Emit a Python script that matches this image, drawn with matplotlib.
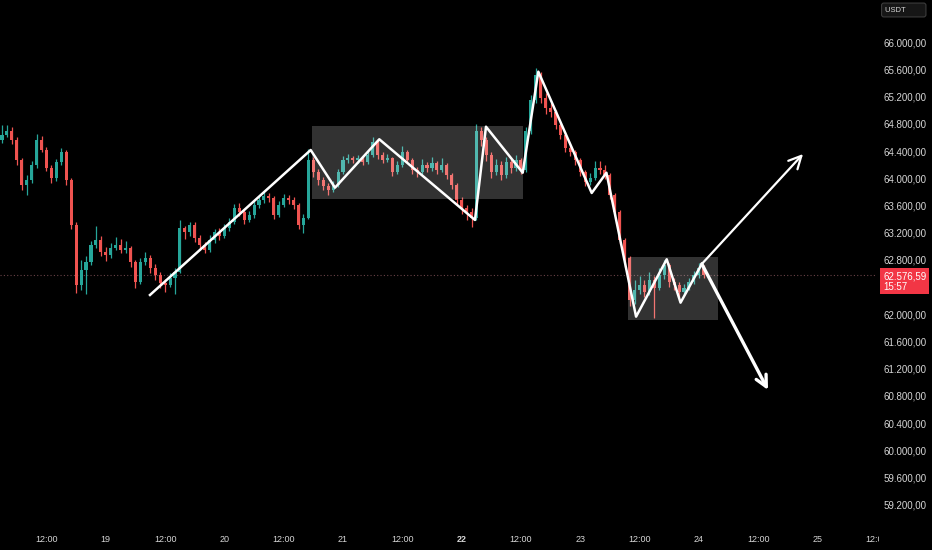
import matplotlib
matplotlib.use('Agg')
import numpy as np
from matplotlib import pyplot as plt
from matplotlib.patches import Rectangle
from matplotlib.transforms import Bbox, TransformedBbox

plt.rcParams['font.family'] = ['Liberation Sans', 'DejaVu Sans']

# Hourly candles, time in hours since the 18th 00:00
hours = list(range(3, 146))
closes = [64640, 64700, 64560, 64270, 63900, 63975, 64200, 64560, 64420, 64150,
          64000, 64240, 64390, 63975, 63310, 62430, 62650, 62770, 63020, 63090,
          62915, 62870, 62975, 63020, 62945, 62975, 62770, 62475, 62770, 62830,
          62680, 62580, 62460, 62430, 62530, 62620, 63270, 63210, 63310, 63120,
          63020, 62945, 63090, 63210, 63150, 63270, 63360, 63560, 63500, 63390,
          63460, 63610, 63680, 63740, 63710, 63460, 63610, 63710, 63680, 63610,
          63310, 63420, 64270, 64090, 63975, 63890, 63830, 63900, 64090, 64270,
          64300, 64270, 64300, 64240, 64340, 64530, 64340, 64270, 64300, 64090,
          64200, 64390, 64270, 64120, 64090, 64200, 64150, 64225, 64120, 64200,
          64050, 63900, 63680, 63560, 63500, 63420, 64700, 64560, 64340, 64090,
          64200, 64050, 64240, 64150, 64270, 64120, 64700, 65150, 65520, 65180,
          65030, 64975, 64780, 64640, 64450, 64390, 64270, 64090, 63950, 64000,
          64150, 64120, 64050, 63750, 63500, 63090, 62830, 62210, 62360, 62430,
          62330, 62500, 62390, 62580, 62720, 62475, 62430, 62330, 62390, 62475,
          62580, 62680, 62576.59]
highs = [64780, 64790, 64760, 64600, 64300, 64050, 64260, 64650, 64620, 64460,
         64190, 64290, 64450, 64420, 64000, 63350, 62800, 62850, 63080, 63300,
         63150, 62990, 63050, 63130, 63110, 63080, 63000, 62800, 62830, 62920,
         62870, 62740, 62620, 62520, 62600, 62680, 63380, 63300, 63360, 63350,
         63160, 63060, 63160, 63260, 63270, 63330, 63420, 63620, 63640, 63540,
         63520, 63660, 63740, 63800, 63780, 63740, 63660, 63770, 63760, 63720,
         63640, 63480, 64430, 64320, 64130, 64020, 63930, 63960, 64140, 64330,
         64350, 64330, 64340, 64330, 64400, 64600, 64560, 64380, 64350, 64320,
         64260, 64470, 64420, 64300, 64170, 64290, 64240, 64310, 64260, 64300,
         64230, 64080, 63930, 63720, 63610, 63560, 64800, 64760, 64600, 64380,
         64290, 64250, 64320, 64280, 64340, 64300, 64760, 65230, 65620, 65560,
         65260, 65100, 65010, 64820, 64680, 64500, 64420, 64300, 64120, 64080,
         64260, 64250, 64200, 64080, 63780, 63530, 63120, 62860, 62500, 62560,
         62500, 62620, 62560, 62680, 62800, 62760, 62530, 62480, 62450, 62540,
         62640, 62750, 62720]
lows = [64520, 64600, 64500, 64200, 63830, 63760, 63930, 64150, 64380, 64100,
        63930, 63960, 64200, 63900, 63250, 62320, 62350, 62300, 62720, 62980,
        62850, 62780, 62830, 62940, 62900, 62900, 62700, 62380, 62440, 62730,
        62600, 62500, 62380, 62330, 62400, 62300, 62600, 63100, 63150, 63060,
        62960, 62900, 62920, 63050, 63090, 63120, 63220, 63330, 63440, 63330,
        63350, 63420, 63570, 63640, 63650, 63400, 63430, 63580, 63620, 63550,
        63250, 63200, 63400, 64020, 63900, 63830, 63760, 63800, 63870, 64060,
        64230, 64220, 64230, 64190, 64210, 64320, 64290, 64220, 64240, 64030,
        64060, 64170, 64220, 64060, 64020, 64060, 64090, 64110, 64060, 64090,
        63990, 63840, 63620, 63480, 63380, 63290, 63380, 64480, 64250, 64000,
        64050, 63980, 64010, 64080, 64110, 64060, 64090, 64650, 65100, 65100,
        64950, 64900, 64720, 64580, 64390, 64330, 64200, 64030, 63880, 63900,
        63970, 64060, 63990, 63700, 63440, 63030, 62700, 62120, 62150, 62300,
        62250, 62290, 61950, 62350, 62520, 62400, 62350, 62250, 62280, 62360,
        62440, 62540, 62530]
opens = [64560] + closes[:-1]
last_price = closes[-1]

# Drawings
zig_h = [32.94, 65.46, 70.38, 79.34, 98.7, 100.93, 108.36, 111.52, 122.32, 125.3, 131.3, 137.5, 140.3, 144.6]
zig_p = [62284, 64416, 63862, 64574, 63387, 64759, 64082, 65568, 63784, 64082, 61965, 62809, 62171, 62740]
up_arrow = [(144.6, 62740), (165.08, 64357)]
down_arrow = [(144.6, 62740), (158.0, 60887)]
box_h = [(65.66, 108.36), (129.73, 147.8)]
box_p = [(63691, 64769), (61916, 62838)]

# 62.400 sits behind the last-price tag, so it is not listed
price_ticks = [v for v in range(59200, 66001, 400) if v != 62400]
time_ticks = list(range(12, 181, 12))
time_labels = ['12:00', '19', '12:00', '20', '12:00', '21', '12:00', '22',
               '12:00', '23', '12:00', '24', '12:00', '25', '12:00']

UP = '#26a69a'
DOWN = '#ef5350'
TXT = '#d6d6d6'


def fmt(v):
    return f'{v:,.2f}'.replace(',', 'X').replace('.', ',').replace('X', '.')


fig = plt.figure(figsize=(9.32, 5.5), dpi=100, facecolor='black')
ax = fig.add_axes([0, 28 / 550, 877 / 932, 522 / 550])
ax.set_facecolor('black')

o = np.array(opens, dtype=float)
c = np.array(closes, dtype=float)
cols = [UP if cc >= oo else DOWN for oo, cc in zip(o, c)]
ax.vlines(hours, lows, highs, colors=cols, lw=0.9, zorder=2)
body = np.maximum(np.abs(c - o), 10)
ax.bar(hours, body, bottom=np.minimum(o, c), width=0.62, color=cols, zorder=2, linewidth=0)

for (h0, h1), (p0, p1) in zip(box_h, box_p):
    ax.add_patch(Rectangle((h0, p0), h1 - h0, p1 - p0, facecolor='white',
                           alpha=0.2, edgecolor='none', zorder=3))

ax.axhline(last_price, color='#6a4348', ls=(0, (1, 2)), lw=0.8, zorder=1)

ax.plot(zig_h, zig_p, color='white', lw=1.8, zorder=5)
ax.annotate('', xy=up_arrow[1], xytext=up_arrow[0],
            arrowprops=dict(arrowstyle='->,head_length=0.9,head_width=0.45',
                            color='white', lw=1.6, shrinkA=0, shrinkB=0), zorder=5)
ax.annotate('', xy=down_arrow[1], xytext=down_arrow[0],
            arrowprops=dict(arrowstyle='->,head_length=0.8,head_width=0.4',
                            color='white', lw=2.4, shrinkA=0, shrinkB=0), zorder=5)

ax.set_xlim(2.592, 180.05)
ax.set_ylim(58945.5, 66622)
for s in ax.spines.values():
    s.set_visible(False)

ax.yaxis.tick_right()
ax.set_yticks(price_ticks)
ax.set_yticklabels([fmt(v) for v in price_ticks])
ax.tick_params(axis='y', length=0, pad=5, labelsize=7, colors=TXT)

ax.set_xticks(time_ticks)
ax.set_xticklabels(time_labels)
ax.tick_params(axis='x', length=0, pad=9.5, labelsize=6.5, colors=TXT)
clip = TransformedBbox(Bbox([[0, 0], [879 / 932, 1]]), fig.transFigure)
for lbl in ax.get_xticklabels():
    lbl.set_clip_box(clip)
    lbl.set_clip_on(True)
    if lbl.get_text() == '22':
        lbl.set_fontweight('bold')

# last price tag
ax.annotate(fmt(last_price) + '\n15:57',
            xy=(1, last_price), xycoords=('axes fraction', 'data'),
            xytext=(4.5, -4.5), textcoords='offset points', ha='left', va='center',
            fontsize=7, color='white', linespacing=1.05, annotation_clip=False, zorder=10,
            bbox=dict(boxstyle='square,pad=0.3', fc='#f23645', ec='none'))

fig.text(885 / 932, 1 - 10 / 550, 'USDT' + ' ' * 8, fontsize=5.5, color=TXT, va='center', ha='left',
         bbox=dict(boxstyle='round,pad=0.45,rounding_size=0.3', fc='#161616', ec='#3c3c3c', lw=0.8))

fig.savefig('out.png', dpi=100, facecolor='black')
